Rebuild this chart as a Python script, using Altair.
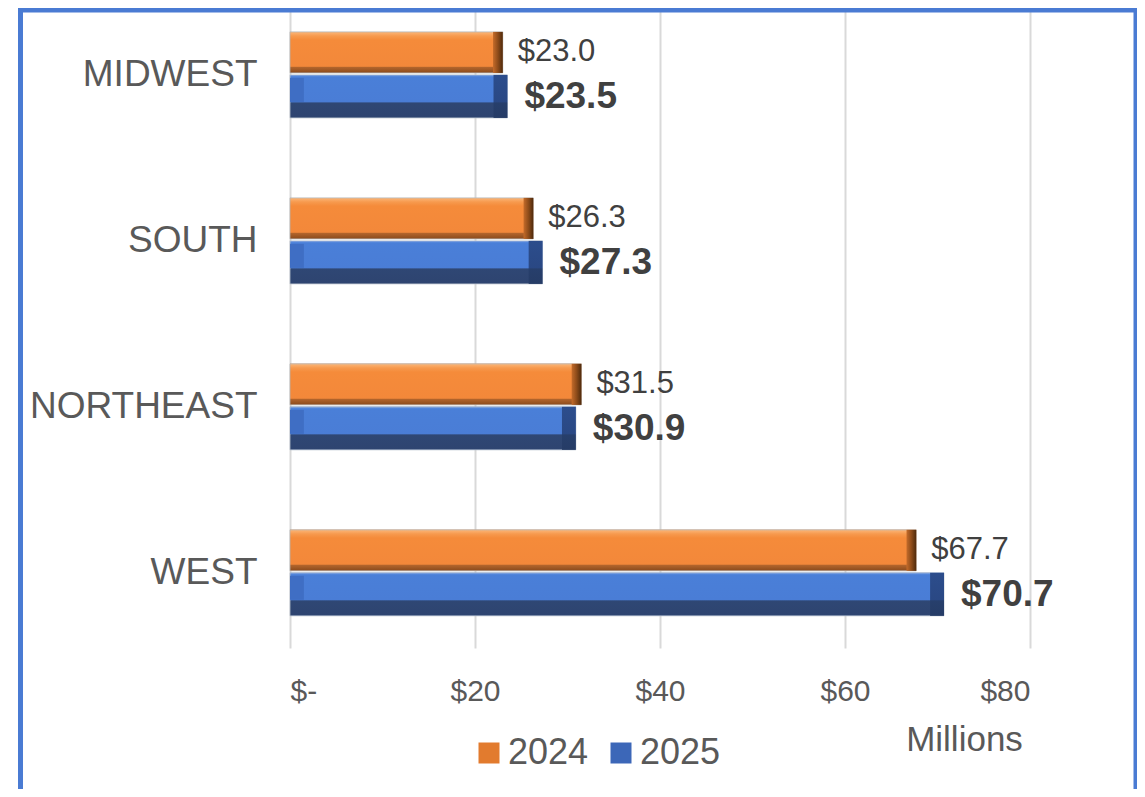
import altair as alt
import pandas as pd

regions = ["MIDWEST", "SOUTH", "NORTHEAST", "WEST"]
years = ["2024", "2025"]
v2024 = [23.0, 26.3, 31.5, 67.7]
v2025 = [23.5, 27.3, 30.9, 70.7]
x_ticks = [0, 20, 40, 60, 80]

df = pd.DataFrame({
    "region": regions * 2,
    "year": [years[0]] * len(regions) + [years[1]] * len(regions),
    "value": v2024 + v2025,
})

FONT = "Liberation Sans"
GRAY = "#595959"

x_scale = alt.Scale(domain=[0, 80], nice=False)
x_axis = alt.Axis(values=x_ticks, labelExpr="datum.value == 0 ? '$-' : '$' + datum.value",
                  grid=True, gridColor="#d9d9d9", gridWidth=2, domain=False, ticks=False,
                  labelFontSize=30, labelColor=GRAY, labelFont=FONT, labelPadding=28,
                  title="Millions", titleX=674, titleY=91, titleAlign="center",
                  titleBaseline="middle", titleFontSize=35, titleFontWeight="normal",
                  titleColor=GRAY, titleFont=FONT)
y_scale = alt.Scale(paddingInner=0.5, paddingOuter=0.178, align=0.43)
y_axis = alt.Axis(title=None, domain=False, ticks=False, labelFontSize=37, labelColor=GRAY,
                  labelFont=FONT, labelPadding=33, labelLimit=0)


def X(field):
    return alt.X(field, type="quantitative", scale=x_scale, axis=x_axis)


def Y():
    return alt.Y("region:N", sort=regions, scale=y_scale, axis=y_axis)


def grad(stops, horizontal=False):
    return {"gradient": "linear", "x1": 0, "y1": 0,
            "x2": 1 if horizontal else 0, "y2": 0 if horizontal else 1,
            "stops": [{"offset": o, "color": c} for o, c in stops]}


base = alt.Chart(df)

# per-year geometry (styling)
geo = {
    "2024": dict(h=41, off=-22.5),
    "2025": dict(h=43, off=21.5),
}

layers = []

# border frame
border = alt.Chart(pd.DataFrame({"a": [0]})).mark_rect(
    filled=False, stroke="#4a7bd3", strokeWidth=5
).encode(x=alt.value(-269.5), x2=alt.value(846), y=alt.value(2), y2=alt.value(800))
layers.append(border)

color_scale = alt.Scale(domain=years, range=["#e27b2e", "#3c67b8"])
legend = alt.Legend(title=None, orient="none", legendX=181, legendY=727, direction="horizontal",
                    symbolType="square", symbolSize=441, symbolStrokeWidth=0,
                    labelFontSize=36, labelColor=GRAY, labelFont=FONT, labelOffset=1,
                    columnPadding=14, padding=0)

for yr in years:
    g = geo[yr]
    layers.append(
        base.transform_filter(alt.datum.year == yr).mark_bar(height=g["h"], yOffset=g["off"]).encode(
            x=X("value"), y=Y(),
            color=alt.Color("year:N", scale=color_scale, legend=legend),
        )
    )

# orange bevel body
layers.append(
    base.transform_filter(alt.datum.year == "2024").mark_bar(
        height=41, yOffset=-22.5, stroke="#b5b5b5", strokeWidth=0.8,
        fill=grad([(0, "#fbb77a"), (0.1, "#f79a4e"), (0.2, "#f58b3a"), (0.84, "#f3883a"),
                   (0.86, "#b3652c"), (1, "#8a4a1c")]),
    ).encode(x=X("value"), y=Y())
)
# orange right cap
layers.append(
    base.transform_filter(alt.datum.year == "2024").transform_calculate(xs="datum.value - 1.05")
    .mark_bar(height=41, yOffset=-22.5,
              fill=grad([(0, "#c46b2a"), (0.5, "#8e4c1a"), (1, "#4e2a0c")], horizontal=True))
    .encode(x=X("xs"), x2="value", y=Y())
)

# blue bevel body
layers.append(
    base.transform_filter(alt.datum.year == "2025").mark_bar(
        height=43, yOffset=21.5, stroke="#b8c0cc", strokeWidth=0.8,
        fill=grad([(0, "#6a98e4"), (0.05, "#4a7fd8"), (0.63, "#4a7dd6"),
                   (0.65, "#2f4774"), (1, "#2e4470")]),
    ).encode(x=X("value"), y=Y())
)
# blue left cap
layers.append(
    base.transform_filter(alt.datum.year == "2025").transform_calculate(x0="0", xe="1.5")
    .mark_bar(height=24, yOffset=15, fill="#3f6ec4")
    .encode(x=X("x0"), x2="xe", y=Y())
)
# blue right cap
layers.append(
    base.transform_filter(alt.datum.year == "2025").transform_calculate(xs="datum.value - 1.5")
    .mark_bar(height=43, yOffset=21.5,
              fill=grad([(0, "#2c4d8c"), (0.63, "#2a4884"), (0.65, "#273f6c"), (1, "#263c66")]))
    .encode(x=X("xs"), x2="value", y=Y())
)

# value labels
layers.append(
    base.transform_filter(alt.datum.year == "2024")
    .transform_calculate(lbl="'$' + format(datum.value, '.1f')")
    .mark_text(align="left", baseline="middle", dx=15, yOffset=-23, fontSize=31,
               color="#404040", font=FONT)
    .encode(x=X("value"), y=Y(), text="lbl:N")
)
layers.append(
    base.transform_filter(alt.datum.year == "2025")
    .transform_calculate(lbl="'$' + format(datum.value, '.1f')")
    .mark_text(align="left", baseline="middle", dx=17, yOffset=22, fontSize=37,
               fontWeight="bold", color="#404040", font=FONT)
    .encode(x=X("value"), y=Y(), text="lbl:N")
)

chart = alt.layer(*layers).properties(
    width=740, height=640,
    autosize=alt.AutoSizeParams(type="none"),
    padding={"left": 282, "top": 0, "right": 107, "bottom": 141},
    background="white",
).configure_view(stroke=None)

chart.save("out.html", embed_options={"renderer": "svg", "actions": False})
